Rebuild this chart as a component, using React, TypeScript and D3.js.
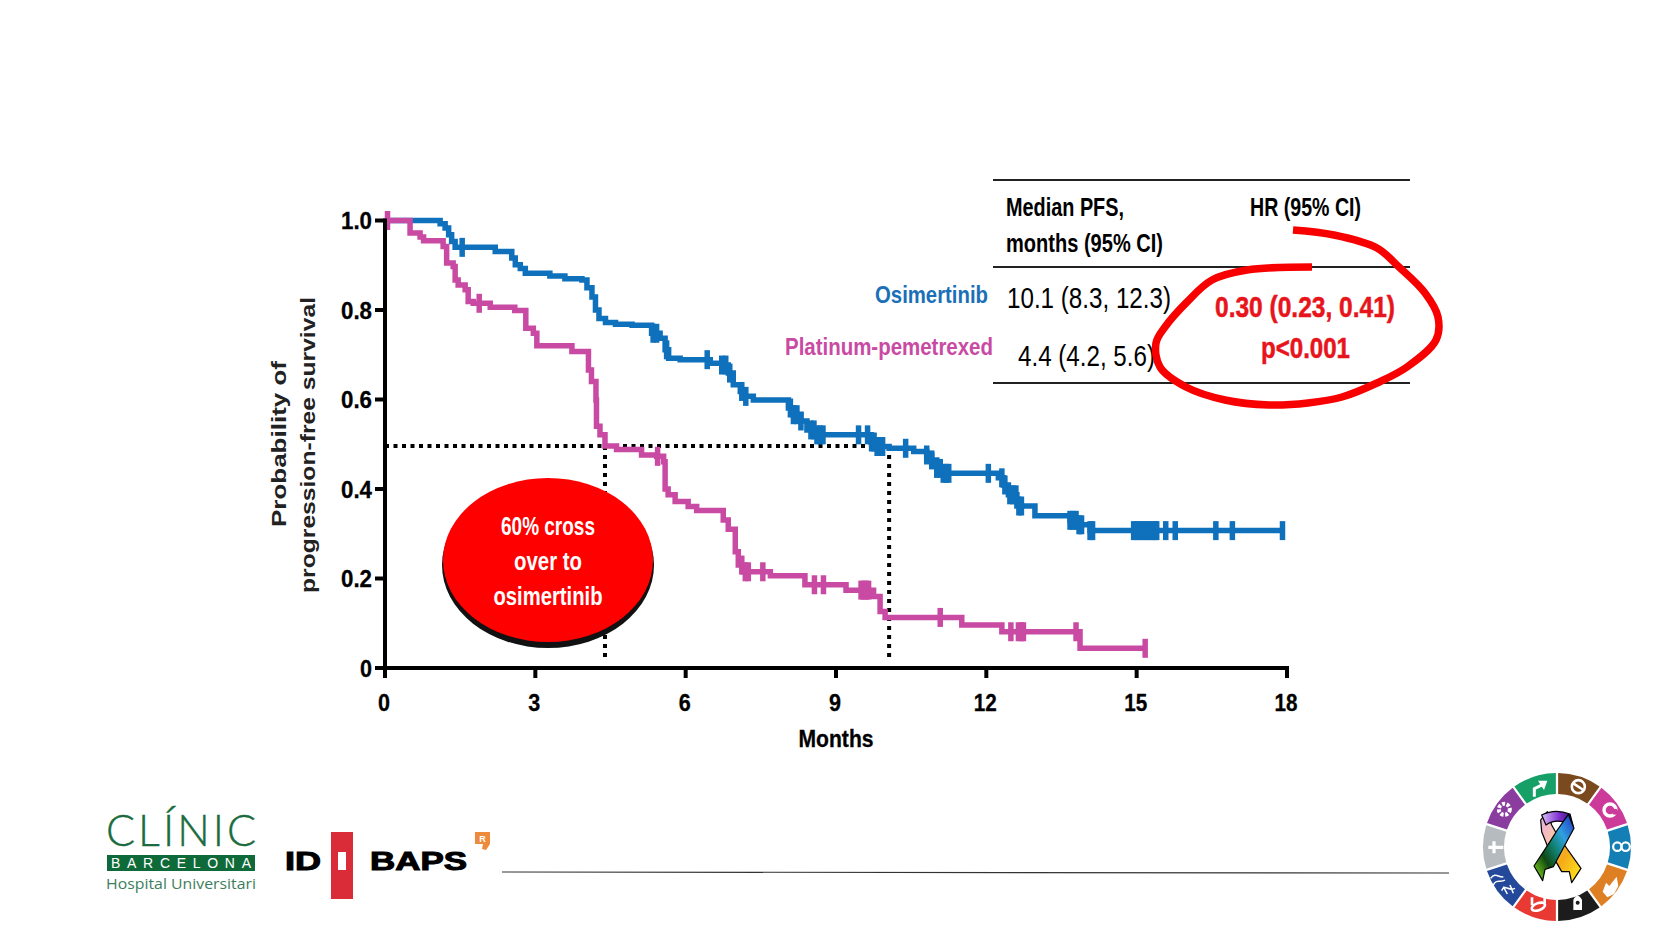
import React from "react";
import * as d3 from "d3";

const xTicks = [0, 3, 6, 9, 12, 15, 18];
const yTicks = [0, 0.2, 0.4, 0.6, 0.8, 1.0];
const yTickLabels = ["0", "0.2", "0.4", "0.6", "0.8", "1.0"];

const osiMonths = [0, 1.1, 1.2, 1.27, 1.33, 1.4, 2.2, 2.53, 2.6, 2.7, 2.8, 3.29, 3.59, 3.93, 4.03, 4.13, 4.2, 4.27, 4.4, 4.6, 4.93, 5.32, 5.49, 5.59, 5.66, 5.89, 6.49, 6.72, 6.85, 6.95, 7.09, 7.19, 7.35, 8.05, 8.15, 8.3, 8.42, 8.6, 9.7, 9.8, 10.06, 10.55, 10.81, 10.91, 11.01, 11.14, 12.24, 12.34, 12.44, 12.61, 12.97, 13.67, 13.8, 14.07, 17.91];
const osiSurv = [1, 0.993, 0.983, 0.968, 0.953, 0.94, 0.931, 0.916, 0.901, 0.893, 0.882, 0.876, 0.87, 0.867, 0.85, 0.829, 0.8, 0.781, 0.772, 0.768, 0.766, 0.748, 0.737, 0.711, 0.692, 0.689, 0.681, 0.677, 0.659, 0.633, 0.618, 0.607, 0.599, 0.581, 0.566, 0.552, 0.532, 0.521, 0.505, 0.495, 0.491, 0.484, 0.476, 0.465, 0.446, 0.435, 0.425, 0.409, 0.387, 0.362, 0.34, 0.33, 0.32, 0.307, 0.307];
const osiCensor = [1.54, 5.35, 5.42, 5.62, 6.43, 6.72, 6.8, 6.88, 7.12, 7.2, 8.09, 8.15, 8.22, 8.3, 8.5, 8.56, 8.62, 8.68, 8.74, 9.45, 9.63, 9.71, 9.76, 9.82, 9.88, 9.93, 10.39, 10.81, 10.91, 11.01, 11.08, 11.14, 11.2, 11.25, 12.04, 12.31, 12.37, 12.47, 12.53, 12.59, 12.65, 12.7, 13.67, 13.73, 13.79, 13.85, 13.9, 14.07, 14.12, 14.94, 15.0, 15.06, 15.12, 15.18, 15.24, 15.3, 15.36, 15.4, 15.58, 15.77, 16.58, 16.91, 17.91];

const chemoMonths = [0, 0.5, 0.7, 0.77, 1.1, 1.16, 1.23, 1.36, 1.4, 1.46, 1.6, 1.66, 1.76, 2.1, 2.59, 2.81, 2.96, 3.03, 3.73, 3.99, 4.06, 4.12, 4.21, 4.22, 4.29, 4.39, 4.62, 5.12, 5.42, 5.56, 5.59, 5.65, 5.79, 6.05, 6.22, 6.62, 6.75, 6.85, 6.99, 7.05, 7.15, 7.69, 8.38, 9.2, 9.75, 9.88, 9.98, 11.51, 12.31, 13.87, 15.17];
const chemoSurv = [1, 0.972, 0.963, 0.955, 0.955, 0.942, 0.905, 0.897, 0.867, 0.856, 0.845, 0.819, 0.815, 0.806, 0.799, 0.759, 0.748, 0.72, 0.707, 0.707, 0.666, 0.64, 0.599, 0.54, 0.521, 0.496, 0.488, 0.476, 0.473, 0.461, 0.4, 0.387, 0.372, 0.361, 0.352, 0.352, 0.331, 0.31, 0.26, 0.23, 0.215, 0.206, 0.186, 0.174, 0.16, 0.126, 0.113, 0.096, 0.081, 0.044, 0.044];
const chemoCensor = [0.05, 1.88, 5.44, 7.12, 7.19, 7.25, 7.54, 8.57, 8.75, 9.5, 9.55, 9.6, 9.65, 11.08, 12.49, 12.64, 12.7, 12.74, 13.79, 15.17];

const medianOsi = 10.06;
const medianChemo = 4.39;
const medianLevel = 0.496;

const tableRows = [
  { label: "Osimertinib", value: "10.1 (8.3, 12.3)" },
  { label: "Platinum-pemetrexed", value: "4.4 (4.2, 5.6)" },
];
const hrText = ["0.30 (0.23, 0.41)", "p<0.001"];
const crossText = ["60% cross", "over to", "osimertinib"];

const wheelColors = ["#7A4A1E", "#CC3A9A", "#147FB5", "#DD7F22", "#1C1C1C", "#E83A33", "#24499A", "#B5BBBE", "#8A3D9E", "#16A068"];

const BLUE = "#0F70BC";
const PINK = "#C94AA3";
const NARROW = "'Liberation Sans Narrow','Liberation Sans',sans-serif";

const x = d3.scaleLinear().domain([0, 18]).range([385, 1287]);
const y = d3.scaleLinear().domain([0, 1]).range([668, 220.5]);

function curvePath(months: number[], surv: number[]) {
  return d3
    .line<number>()
    .x((m) => x(m))
    .y((_, i) => y(surv[i]))
    .curve(d3.curveStepAfter)(months) as string;
}
function survAt(months: number[], surv: number[], m: number) {
  const i = d3.bisectRight(months, m) - 1;
  return surv[Math.max(0, i)];
}

function T(p: any) {
  const { w, children, family, heavy, ...r } = p;
  return (
    <text
      fontFamily={family || NARROW}
      textLength={w}
      lengthAdjust="spacingAndGlyphs"
      stroke={heavy ? r.fill : undefined}
      strokeWidth={heavy ? heavy : undefined}
      {...r}
    >
      {children}
    </text>
  );
}

const outline: [number, number][] = [
  [1293, 230], [1334, 235], [1377, 248], [1399, 267], [1425, 293], [1438, 317], [1436, 340], [1407, 367], [1377, 383], [1342, 397], [1308, 403], [1269, 405], [1225, 400], [1186, 387], [1160, 367], [1156, 343], [1165, 327], [1186, 303], [1212, 280], [1247, 270], [1312, 267],
];

function Wheel() {
  const cx = 1557, cy = 847;
  const arc = d3.arc<any>().innerRadius(53).outerRadius(74).padAngle(0.025);
  const pie = d3.pie<string>().value(1).sort(null)(wheelColors);
  const rb = (zx: number, zy: number) => `${1470 + zx / 3},${760 + zy / 3}`;
  const px = (zx: number) => 1470 + zx / 3;
  const py = (zy: number) => 760 + zy / 3;
  return (
    <g>
      <defs>
        <linearGradient id="rA" x1="0" y1="0" x2="1" y2="1">
          <stop offset="0" stopColor="#E8A8E8" />
          <stop offset="0.35" stopColor="#F8C8A8" />
          <stop offset="0.6" stopColor="#F5A818" />
          <stop offset="1" stopColor="#FFEE20" />
        </linearGradient>
        <linearGradient id="rB" x1="1" y1="0" x2="0" y2="1">
          <stop offset="0" stopColor="#2030C0" />
          <stop offset="0.3" stopColor="#30A0E0" />
          <stop offset="0.5" stopColor="#108070" />
          <stop offset="0.7" stopColor="#104810" />
          <stop offset="1" stopColor="#90F020" />
        </linearGradient>
        <linearGradient id="rC" x1="0" y1="0" x2="1" y2="0">
          <stop offset="0" stopColor="#D8C0F8" />
          <stop offset="0.55" stopColor="#8030D0" />
          <stop offset="1" stopColor="#301070" />
        </linearGradient>
      </defs>
      {pie.map((s, i) => (
        <path key={i} d={arc(s) as string} transform={`translate(${cx},${cy})`} fill={s.data} />
      ))}
      <g stroke="#fff" fill="none" strokeWidth={2.6}>
        <path d={`M${rb(193, 110)} L${rb(193, 86)} L${rb(218, 74)}`} strokeWidth={3} />
        <path d={`M${rb(232, 62)} L${rb(204, 62)} L${rb(222, 90)} Z`} fill="#fff" stroke="none" />
        <circle cx={px(325)} cy={py(80)} r={6.5} />
        <line x1={px(310)} y1={py(70)} x2={px(340)} y2={py(90)} />
        <circle cx={px(420)} cy={py(150)} r={6} strokeWidth={3.4} />
        <circle cx={px(435)} cy={py(155)} r={3} fill="#CC3A9A" stroke="none" />
        <circle cx={px(442)} cy={py(260)} r={4.2} strokeWidth={2.2} />
        <circle cx={px(467)} cy={py(260)} r={4.2} strokeWidth={2.2} />
        <path d={`M${rb(398, 395)} L${rb(408, 368)} L${rb(418, 378)} L${rb(440, 350)} L${rb(445, 378)} L${rb(432, 402)} L${rb(412, 412)} Z`} fill="#fff" stroke="none" />
        <path d={`M${rb(310, 450)} L${rb(310, 420)} Q${rb(322, 395)} ${rb(336, 420)} L${rb(336, 450)} Z`} fill="#fff" stroke="none" />
        <circle cx={px(323)} cy={py(428)} r={2} fill="#1C1C1C" stroke="none" />
        <ellipse cx={px(205)} cy={py(440)} rx={7} ry={3.5} transform={`rotate(-20 ${px(205)} ${py(440)})`} />
        <path d={`M${rb(186, 412)} L${rb(186, 436)} M${rb(224, 405)} L${rb(224, 430)}`} />
        <path d={`M${rb(62, 355)} C${rb(75, 335)} ${rb(90, 355)} ${rb(100, 350)} M${rb(70, 375)} C${rb(80, 355)} ${rb(90, 370)} ${rb(105, 360)} M${rb(95, 392)} C${rb(105, 370)} ${rb(115, 395)} ${rb(135, 385)} M${rb(100, 380)} L${rb(112, 402)} M${rb(120, 375)} L${rb(130, 400)}`} strokeWidth={1.5} />
        <path d={`M${rb(55, 262)} L${rb(100, 262)} M${rb(72, 244)} L${rb(72, 280)}`} strokeWidth={3.2} />
        <circle cx={px(103)} cy={py(148)} r={5.5} strokeWidth={4} strokeDasharray="3 1.6" />
        <circle cx={px(103)} cy={py(148)} r={1.8} fill="#8A3D9E" stroke="none" />
      </g>
      <g stroke="#000" strokeWidth={1.2} strokeLinejoin="round">
        <path d={`M${rb(212, 180)} L${rb(232, 155)} L${rb(245, 195)} L${rb(262, 225)} L${rb(333, 325)} L${rb(305, 368)} L${rb(298, 335)} L${rb(275, 335)} L${rb(235, 265)} L${rb(215, 215)} Z`} fill="url(#rA)" />
        <path d={`M${rb(215, 165)} Q${rb(255, 145)} ${rb(300, 162)} L${rb(310, 200)} L${rb(295, 190)} Q${rb(255, 175)} ${rb(228, 195)} Z`} fill="url(#rC)" />
        <path d={`M${rb(295, 163)} L${rb(312, 205)} L${rb(290, 245)} L${rb(250, 320)} L${rb(225, 328)} L${rb(218, 362)} L${rb(192, 318)} L${rb(240, 245)} L${rb(262, 210)} Z`} fill="url(#rB)" />
      </g>
    </g>
  );
}

export default function App() {
  const redOutline = d3.line().curve(d3.curveCatmullRom.alpha(0.5))(outline) as string;
  return (
    <svg width={1680} height={945} style={{ position: "absolute", left: 0, top: 0, background: "#fff" }}>
      <g stroke="#000" strokeWidth={4} fill="none">
        <line x1={x(0)} x2={x(medianOsi)} y1={y(medianLevel)} y2={y(medianLevel)} strokeDasharray="4 4.5" />
        <line x1={x(medianChemo)} x2={x(medianChemo)} y1={y(medianLevel)} y2={y(0.015)} strokeDasharray="4 5" />
        <line x1={x(medianOsi)} x2={x(medianOsi)} y1={y(medianLevel)} y2={y(0.015)} strokeDasharray="4 5" />
      </g>

      <path d={curvePath(osiMonths, osiSurv)} fill="none" stroke={BLUE} strokeWidth={5.5} />
      {osiCensor.map((m, i) => {
        const s = survAt(osiMonths, osiSurv, m);
        return <line key={i} x1={x(m)} x2={x(m)} y1={y(s) - 9.5} y2={y(s) + 9.5} stroke={BLUE} strokeWidth={5.5} />;
      })}
      <path d={curvePath(chemoMonths, chemoSurv)} fill="none" stroke={PINK} strokeWidth={5.5} />
      {chemoCensor.map((m, i) => {
        const s = survAt(chemoMonths, chemoSurv, m);
        return <line key={i} x1={x(m)} x2={x(m)} y1={y(s) - 9.5} y2={y(s) + 9.5} stroke={PINK} strokeWidth={5.5} />;
      })}

      <g stroke="#000" strokeWidth={4} fill="none">
        <line x1={x(0)} x2={x(0)} y1={y(1) - 2} y2={y(0) + 2} />
        <line x1={x(0) - 2} x2={x(18) + 2} y1={y(0)} y2={y(0)} />
        {yTicks.map((t) => <line key={t} x1={x(0) - 10} x2={x(0)} y1={y(t)} y2={y(t)} />)}
        {xTicks.map((t) => <line key={t} x1={x(t)} x2={x(t)} y1={y(0)} y2={y(0) + 10} />)}
      </g>
      {yTicks.map((t, i) => (
        <T key={t} x={372} y={y(t) + 8.5} textAnchor="end" fontSize={24} fontWeight="bold" fill="#000" heavy={0.3} w={i === 0 ? 12 : 31}>{yTickLabels[i]}</T>
      ))}
      {xTicks.map((t) => (
        <T key={t} x={x(t) - 1} y={711} textAnchor="middle" fontSize={24} fontWeight="bold" fill="#000" heavy={0.3} w={t >= 12 ? 23 : 12}>{t}</T>
      ))}
      <T x={836} y={747} textAnchor="middle" fontSize={24} fontWeight="bold" fill="#000" heavy={0.3} w={75}>Months</T>
      <g fontFamily="'Liberation Sans',sans-serif" fontWeight="bold" fontSize={20} fill="#222" textAnchor="middle">
        <text transform="translate(286,444) rotate(-90)" textLength={166} lengthAdjust="spacingAndGlyphs">Probability of</text>
        <text transform="translate(315,445) rotate(-90)" textLength={296} lengthAdjust="spacingAndGlyphs">progression-free survival</text>
      </g>

      <g stroke="#222" strokeWidth={2}>
        <line x1={993} x2={1410} y1={180} y2={180} />
        <line x1={993} x2={1410} y1={267} y2={267} />
        <line x1={993} x2={1410} y1={383} y2={383} />
      </g>
      <g fontSize={26} fontWeight="bold" fill="#000">
        <T x={1006} y={216} w={118} fill="#000">Median PFS,</T>
        <T x={1006} y={252} w={157} fill="#000">months (95% CI)</T>
        <T x={1250} y={216} w={111} fill="#000">HR (95% CI)</T>
      </g>
      <T x={988} y={303} textAnchor="end" fontSize={24} fontWeight="bold" fill="#1A6FB8" w={113}>{tableRows[0].label}</T>
      <T x={993} y={355} textAnchor="end" fontSize={24} fontWeight="bold" fill={PINK} w={208}>{tableRows[1].label}</T>
      <T x={1007} y={308} fontSize={29} fill="#000" w={164}>{tableRows[0].value}</T>
      <T x={1018} y={366} fontSize={29} fill="#000" w={137}>{tableRows[1].value}</T>
      <T x={1215} y={317} fontSize={29} fontWeight="bold" fill="#E8141C" heavy={0.5} w={180}>{hrText[0]}</T>
      <T x={1261} y={358} fontSize={29} fontWeight="bold" fill="#E8141C" heavy={0.5} w={89}>{hrText[1]}</T>
      <path d={redOutline} fill="none" stroke="#F80000" strokeWidth={7.5} strokeLinejoin="round" />

      <ellipse cx={548} cy={565} rx={106} ry={83} fill="#111" />
      <ellipse cx={548} cy={560} rx={105} ry={82} fill="#FE0000" />
      <g fill="#fff" fontSize={25} fontWeight="bold" textAnchor="middle">
        {crossText.map((t, i) => (
          <T key={t} x={548} y={535 + i * 35} w={[94, 68, 109][i]} fill="#fff">{t}</T>
        ))}
      </g>

      <g fill="#1B6B3E">
        <text x={106} y={846} fontFamily="Lato,sans-serif" fontWeight={300} fontSize={43} textLength={150} fill="#1B6B3E" stroke="#1B6B3E" strokeWidth={0.4}>CLÍNIC</text>
        <rect x={107} y={855} width={148} height={16} fill="#0F6A3A" />
        <text x={111} y={868} fill="#fff" fontFamily="'Liberation Sans',sans-serif" fontSize={14} textLength={140}>BARCELONA</text>
        <text x={106} y={889} fill="#3E7D5B" fontFamily="'Open Sans',sans-serif" fontSize={15} textLength={150} lengthAdjust="spacingAndGlyphs">Hospital Universitari</text>
      </g>
      <rect x={331} y={832} width={22} height={67} fill="#DA2C38" />
      <rect x={338} y={852} width={8} height={18} fill="#fff" />
      <text x={285} y={870} fontFamily="'Liberation Sans',sans-serif" fontWeight="bold" fontSize={25} textLength={36} lengthAdjust="spacingAndGlyphs" stroke="#000" strokeWidth={1} fill="#000">ID</text>
      <text x={370} y={870} fontFamily="'Liberation Sans',sans-serif" fontWeight="bold" fontSize={25} textLength={97} lengthAdjust="spacingAndGlyphs" stroke="#000" strokeWidth={1} fill="#000">BAPS</text>
      <path d="M475,832 h15 v12 l-4,6 l-4,-1 l1,-5 h-8 z" fill="#EE8A3C" />
      <text x={482.5} y={842} textAnchor="middle" fontSize={9} fontWeight="bold" fontFamily="'Liberation Sans',sans-serif" fill="#fff">R</text>
      <line x1={502} x2={1449} y1={872} y2={873} stroke="#333" strokeWidth={1.2} />
      <Wheel />
    </svg>
  );
}
